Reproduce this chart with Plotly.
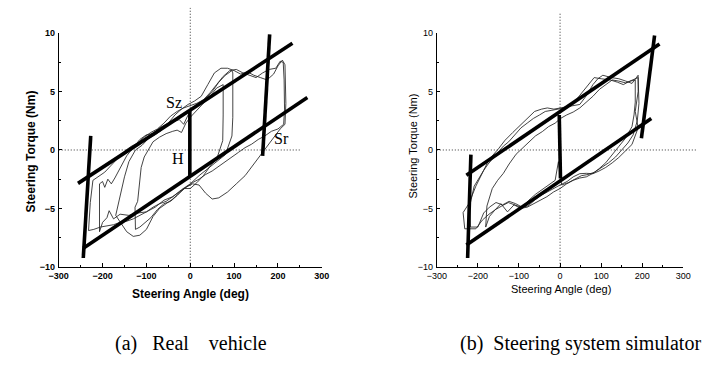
import plotly.graph_objects as go

# ---------------- data: panel (a) real vehicle ----------------
a_upper_line_x = [-256, 233]
a_upper_line_y = [-2.86, 9.14]
a_lower_line_x = [-244, 267]
a_lower_line_y = [-8.42, 4.5]
a_left_vert_x = [-227, -244]
a_left_vert_y = [1.2, -9.25]
a_right_vert_x = [181, 165]
a_right_vert_y = [9.9, -0.5]
a_mid_vert_x = [-1, -1]
a_mid_vert_y = [3.4, -2.3]

a_loop1_x = [-232, -228, -222, -210, -195, -180, -165, -150, -135, -120, -105, -90, -75, -60, -45, -30, -15, 0, 15, 30,
             45, 60, 75, 90, 105, 120, 135, 150, 165, 180, 195, 205, 212, 214, 215, 213, 200, 185, 170, 155, 140, 125,
             110, 95, 80, 65, 50, 35, 20, 5, -10, -25, -40, -55, -70, -85, -100, -115, -130, -145, -160, -175, -190,
             -205, -220, -232]
a_loop1_y = [-6.9, -4.5, -2.6, -2.3, -1.9, -1.3, -0.7, -0.1, 0.3, 0.6, 1.1, 1.5, 1.8, 2.3, 2.9, 3.3, 3.6, 3.8, 4.0, 4.3,
             4.9, 5.6, 6.3, 6.8, 6.9, 6.6, 6.4, 6.2, 6.6, 6.9, 7.0, 7.6, 7.5, 6.0, 3.5, 2.2, 1.8, 1.6, 1.2, 0.9, 0.5, 0.2,
             -0.2, -0.6, -1.0, -1.4, -1.8, -2.1, -2.5, -2.8, -3.2, -3.6, -4.0, -4.4, -4.6, -4.9, -5.3, -5.6, -5.9, -6.1,
             -6.2, -6.4, -6.5, -6.6, -6.8, -6.9]

a_loop2_x = [-207, -207, -200, -195, -188, -180, -172, -160, -145, -130, -115, -100, -85, -70, -55, -40, -25, -15, -5, 5,
             20, 35, 50, 65, 80, 95, 97, 97, 95, 80, 60, 40, 20, 0, -20, -40, -60, -80, -100, -120, -140, -160, -175,
             -185, -190, -200, -207]
a_loop2_y = [-7.0, -2.9, -2.7, -3.2, -2.5, -2.9, -2.4, -1.6, -0.5, 0.2, 0.9, 1.3, 1.4, 1.9, 2.2, 2.4, 2.6, 2.2, 3.0, 3.6,
             3.9, 4.4, 5.0, 5.8, 6.4, 6.8, 6.6, 2.8, 1.2, -0.4, -1.0, -1.6, -2.2, -2.9, -3.4, -4.0, -4.3, -4.9, -5.3,
             -5.4, -5.6, -5.5, -5.9, -5.2, -5.8, -6.2, -7.0]

a_loop3_x = [-125, -126, -120, -112, -105, -95, -85, -70, -55, -40, -30, -20, -10, 0, 15, 30, 45, 60, 75, 75, 74, 60, 45,
             30, 15, 0, -15, -30, -45, -60, -75, -90, -105, -115, -125]
a_loop3_y = [-6.8, -4.9, -4.4, -1.5, -0.6, 0.0, 0.7, 1.1, 1.4, 1.6, 1.7, 1.5, 2.3, 2.8, 3.4, 4.0, 4.6, 5.3, 5.6, 3.0,
             0.8, -0.8, -1.4, -2.2, -2.8, -3.3, -3.3, -3.9, -4.4, -4.6, -5.1, -5.8, -6.3, -6.6, -6.8]

a_loop4_x = [-170, -160, -150, -140, -125, -110, -95, -80, -65, -50, -35, -20, -5, 10, 25, 40, 55, 70, 85, 100, 115, 130,
             145, 160, 175, 190, 200, 210, 216, 218, 216, 205, 185, 165, 145, 125, 105, 85, 65, 50, 35, 20, 5, -10, -25,
             -40, -55, -70, -85, -100, -115, -130, -145, -160, -170]
a_loop4_y = [-5.6, -4.0, -2.3, -1.0, 0.0, 0.4, 1.0, 1.3, 1.7, 2.3, 3.0, 3.5, 3.9, 4.2, 4.6, 5.6, 6.6, 7.0, 7.0, 6.8, 6.5,
             6.7, 6.4, 6.2, 6.0, 6.5, 7.2, 7.7, 7.3, 4.0, 2.2, 1.8, 0.8, -0.3, -1.3, -2.2, -2.9, -3.6, -4.1, -4.2, -3.7,
             -3.0, -2.9, -3.2, -3.7, -4.2, -4.6, -5.0, -5.7, -6.8, -7.3, -7.4, -7.0, -6.2, -5.6]

# ---------------- data: panel (b) simulator ----------------
b_upper_line_x = [-228, 242]
b_upper_line_y = [-2.17, 9.08]
b_lower_line_x = [-228, 222]
b_lower_line_y = [-8.14, 2.69]
b_left_vert_x = [-217, -225]
b_left_vert_y = [-0.4, -9.25]
b_right_vert_x = [230, 198]
b_right_vert_y = [9.8, 1.0]
b_mid_vert_x = [-2, 1]
b_mid_vert_y = [3.0, -2.45]

b_loop1_x = [-232, -236, -222, -205, -186, -173, -150, -134, -115, -94, -78, -62, -45, -31, -15, 1, 20, 48, 65, 80,
             92, 104, 125, 143, 160, 175, 190, 190, 183, 190, 175, 159, 143, 127, 111, 95, 80, 64, 48, 32, 17, 0, -15,
             -31, -47, -62, -78, -95, -110, -126, -142, -157, -173, -189, -205, -218, -232]
b_loop1_y = [-6.75, -5.36, -4.6, -3.1, -1.75, -0.83, 0.1, 0.83, 1.5, 2.2, 2.8, 3.3, 3.5, 3.6, 3.5, 3.6, 3.7, 3.9, 4.7,
             5.6, 6.1, 6.4, 6.2, 6.1, 5.9, 5.7, 6.4, 5.0, 3.3, 1.9, 0.47, -0.1, -0.64, -1.1, -1.5, -1.8, -2.03, -2.0,
             -2.03, -2.3, -2.7, -3.0, -3.3, -3.6, -3.9, -4.3, -4.8, -4.9, -4.7, -4.5, -4.8, -5.1, -5.5, -6.0, -6.75,
             -6.75, -6.75]

b_loop2_x = [-181, -178, -165, -152, -138, -124, -107, -90, -75, -60, -43, -28, -12, 1, 16, 32, 48, 64, 80, 96, 111,
             127, 143, 159, 172, 183, 183, 180, 175, 159, 143, 127, 111, 95, 80, 64, 48, 32, 16, 0, -16, -32, -48, -64,
             -80, -96, -112, -128, -144, -160, -172, -181]
b_loop2_y = [-6.6, -4.8, -3.3, -2.6, -2.0, -1.2, -0.36, 0.2, 0.75, 1.2, 1.58, 2.0, 2.3, 2.7, 3.0, 3.25, 3.6, 4.08, 4.6,
             5.2, 5.6, 6.0, 5.9, 5.75, 5.9, 6.0, 4.1, 3.0, 2.0, 1.0, 0.3, -0.4, -1.1, -1.6, -2.0, -2.3, -2.4, -2.6, -2.9,
             -3.3, -3.6, -4.0, -4.3, -4.6, -4.9, -5.0, -4.7, -5.3, -4.6, -5.2, -5.7, -6.6]

b_loop3_x = [-218, -220, -209, -198, -186, -175, -162, -150, -138, -125, -110, -95, -80, -65, -50, -36, -20, -5, 10,
             30, 50, 70, 83, 100, 122, 140, 154, 170, 190, 192, 188, 178, 165, 150, 135, 118, 100, 84, 68, 52, 36, 20,
             4, -4, -12, -28, -44, -60, -76, -92, -108, -124, -140, -156, -172, -186, -200, -218]
b_loop3_y = [-6.6, -4.8, -3.1, -2.4, -1.75, -1.2, -0.64, -0.1, 0.33, 0.7, 1.3, 1.9, 2.3, 2.7, 3.0, 3.3, 3.4, 3.5, 3.6,
             3.9, 4.8, 5.6, 6.2, 6.1, 6.0, 5.8, 5.6, 5.9, 6.2, 4.0, 2.5, 1.3, 0.6, 0.0, -0.6, -1.1, -1.5, -1.9, -2.1,
             -2.2, -2.5, -2.8, -3.0, -1.0, -2.6, -3.0, -3.4, -3.8, -4.3, -4.9, -4.6, -4.4, -4.7, -4.5, -4.9, -5.4,
             -6.6, -6.6]

# ---------------- text ----------------
x_ticks = [-300, -200, -100, 0, 100, 200, 300]
y_ticks = [-10, -5, 0, 5, 10]
x_title = "Steering Angle (deg)"
y_title = "Steering Torque (Nm)"
caption_a = "(a)   Real    vehicle"
caption_b = "(b)  Steering system simulator"
marker_labels = ["Sz", "H", "Sr"]
marker_label_x = [-37, -27, 207]
marker_label_y = [4.1, -0.75, 1.0]

W, H = 704, 371
THIN = dict(color="#222222", width=0.85)
THICK = dict(color="black", width=3.6)

fig = go.Figure()


def add(x, y, line, xa, ya):
    fig.add_trace(go.Scatter(x=x, y=y, mode="lines", line=line, xaxis=xa, yaxis=ya,
                             showlegend=False, hoverinfo="skip"))


for lx, ly in [(a_loop1_x, a_loop1_y), (a_loop2_x, a_loop2_y), (a_loop3_x, a_loop3_y), (a_loop4_x, a_loop4_y)]:
    add(lx, ly, THIN, "x", "y")
for lx, ly in [(a_upper_line_x, a_upper_line_y), (a_lower_line_x, a_lower_line_y), (a_left_vert_x, a_left_vert_y),
               (a_right_vert_x, a_right_vert_y), (a_mid_vert_x, a_mid_vert_y)]:
    add(lx, ly, THICK, "x", "y")

for lx, ly in [(b_loop1_x, b_loop1_y), (b_loop2_x, b_loop2_y), (b_loop3_x, b_loop3_y)]:
    add(lx, ly, THIN, "x2", "y2")
for lx, ly in [(b_upper_line_x, b_upper_line_y), (b_lower_line_x, b_lower_line_y), (b_left_vert_x, b_left_vert_y),
               (b_right_vert_x, b_right_vert_y), (b_mid_vert_x, b_mid_vert_y)]:
    add(lx, ly, THICK, "x2", "y2")

tickfont_a = dict(family="Liberation Sans, Arial", size=9, color="black", weight="bold")
tickfont_b = dict(family="Liberation Sans, Arial", size=9, color="black")


def xaxis(domain, anchor, tf):
    return dict(domain=domain, anchor=anchor, range=[-300, 300], tickvals=x_ticks, ticks="inside", ticklen=4,
                tickwidth=1, tickcolor="black", showline=True, linecolor="black", linewidth=1, showgrid=False,
                zeroline=False, tickfont=tf, ticklabelstandoff=0,
                minor=dict(dtick=50, tick0=0, ticks="inside", ticklen=2, tickcolor="black", showgrid=False))


def yaxis(domain, anchor, tf):
    return dict(domain=domain, anchor=anchor, range=[-10, 10], tickvals=y_ticks, ticks="inside", ticklen=3,
                tickwidth=1, tickcolor="black", showline=True, linecolor="black", linewidth=1, showgrid=False,
                zeroline=False, tickfont=tf, ticklabelstandoff=1,
                minor=dict(dtick=2.5, tick0=0, ticks="inside", ticklen=2, tickcolor="black", showgrid=False))


ydom = [(H - 269) / H, (H - 29) / H]
fig.update_layout(
    width=W, height=H, margin=dict(l=0, r=0, t=0, b=0),
    paper_bgcolor="white", plot_bgcolor="white",
    xaxis=xaxis([50 / W, 320 / W], "y", tickfont_a),
    yaxis=yaxis(ydom, "x", tickfont_a),
    xaxis2=xaxis([438 / W, 691 / W], "y2", tickfont_b),
    yaxis2=yaxis(ydom, "x2", tickfont_b),
)

dot = dict(color="#333333", width=1, dash="1px,2px")
shapes = [
    dict(type="line", xref="x", yref="paper", x0=0, x1=0, y0=ydom[0], y1=(H - 3) / H, line=dot, layer="below"),
    dict(type="line", xref="x", yref="y", x0=-300, x1=251, y0=0, y1=0, line=dot, layer="below"),
    dict(type="line", xref="x2", yref="paper", x0=0, x1=0, y0=ydom[0], y1=(H - 7) / H, line=dot, layer="below"),
    dict(type="line", xref="paper", yref="y2", x0=438 / W, x1=1.0, y0=0, y1=0, line=dot, layer="below"),
]
fig.update_layout(shapes=shapes)

ann = []
titlefont_a = dict(family="Liberation Sans, Arial", size=12, color="black", weight="bold")
titlefont_b = dict(family="Liberation Sans, Arial", size=11, color="black")
ann.append(dict(text=y_title, x=22 / W, y=(H - 150) / H, xref="paper", yref="paper", textangle=-90,
                showarrow=False, font=titlefont_a, xanchor="center", yanchor="middle"))
ann.append(dict(text=y_title, x=414 / W, y=(H - 145) / H, xref="paper", yref="paper", textangle=-90,
                showarrow=False, font=titlefont_b, xanchor="center", yanchor="middle"))
ann.append(dict(text=x_title, x=185 / W, y=(H - 297) / H, xref="paper", yref="paper", showarrow=False,
                font=titlefont_a, xanchor="center", yanchor="middle"))
ann.append(dict(text=x_title, x=565 / W, y=(H - 292) / H, xref="paper", yref="paper", showarrow=False,
                font=titlefont_b, xanchor="center", yanchor="middle"))
capfont = dict(family="Liberation Serif, Times New Roman", size=20, color="black")
ann.append(dict(text=caption_a, x=186 / W, y=(H - 348) / H, xref="paper", yref="paper", showarrow=False,
                font=capfont, xanchor="center", yanchor="middle"))
ann.append(dict(text=caption_b, x=585 / W, y=(H - 348) / H, xref="paper", yref="paper", showarrow=False,
                font=capfont, xanchor="center", yanchor="middle"))
for t, lx, ly in zip(marker_labels, marker_label_x, marker_label_y):
    ann.append(dict(text=t, x=lx, y=ly, xref="x", yref="y", showarrow=False,
                    font=dict(family="Liberation Serif, Times New Roman", size=16, color="black"),
                    xanchor="center", yanchor="middle"))
fig.update_layout(annotations=ann)

fig.write_html("out.html")
